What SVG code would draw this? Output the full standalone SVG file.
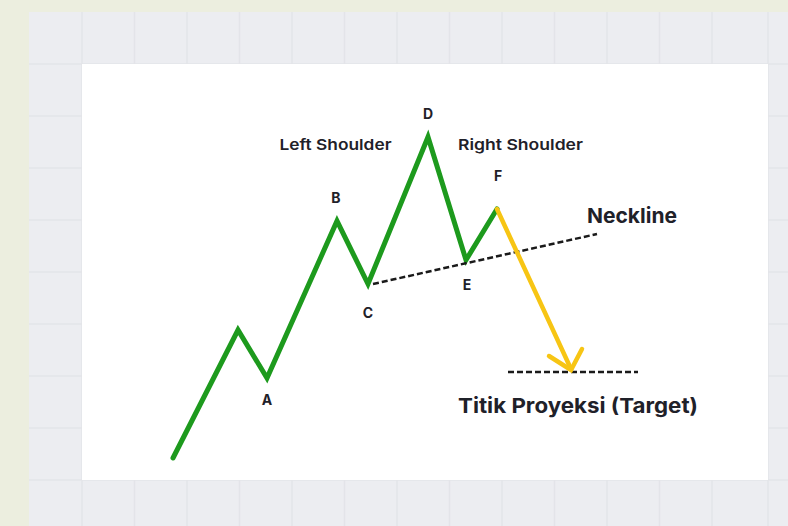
<svg xmlns="http://www.w3.org/2000/svg" width="788" height="526" viewBox="0 0 788 526">
<defs>
<style>
.grid{stroke:#e3e4e9;stroke-width:1.5}
.lbl{font-family:Inter,"Noto Sans","Liberation Sans",sans-serif;font-weight:700;fill:#1f2129;text-anchor:middle}
.pt{font-size:14px}
.sh{font-size:15px;font-weight:600}
.big{font-size:20.5px}
.dash{stroke:#1a1a1a;stroke-width:2.5;stroke-dasharray:6 3;fill:none}
</style>
</defs>
<rect width="788" height="526" fill="#eceedf"/>
<rect x="29" y="12" width="759" height="514" fill="#ecedf1"/>
<g class="grid">
<line x1="82" y1="12" x2="82" y2="526"/><line x1="134.5" y1="12" x2="134.5" y2="526"/><line x1="187" y1="12" x2="187" y2="526"/><line x1="239.5" y1="12" x2="239.5" y2="526"/><line x1="292" y1="12" x2="292" y2="526"/><line x1="344.5" y1="12" x2="344.5" y2="526"/><line x1="397" y1="12" x2="397" y2="526"/><line x1="449.5" y1="12" x2="449.5" y2="526"/><line x1="502" y1="12" x2="502" y2="526"/><line x1="554.5" y1="12" x2="554.5" y2="526"/><line x1="607" y1="12" x2="607" y2="526"/><line x1="659.5" y1="12" x2="659.5" y2="526"/><line x1="712" y1="12" x2="712" y2="526"/><line x1="768" y1="12" x2="768" y2="526"/>
<line x1="29" y1="64" x2="788" y2="64"/><line x1="29" y1="116" x2="788" y2="116"/><line x1="29" y1="168" x2="788" y2="168"/><line x1="29" y1="220" x2="788" y2="220"/><line x1="29" y1="272" x2="788" y2="272"/><line x1="29" y1="324" x2="788" y2="324"/><line x1="29" y1="376" x2="788" y2="376"/><line x1="29" y1="428" x2="788" y2="428"/><line x1="29" y1="480" x2="788" y2="480"/>
</g>
<rect x="82" y="64" width="686" height="416" fill="#ffffff"/>
<g id="connectors">
<polyline points="173,458 238,330 267,378 337,221 368,284 428,137 466,260 497,209" fill="none" stroke="#1d9a1d" stroke-width="5" stroke-linejoin="miter" stroke-linecap="round"/>
<line class="dash" x1="373" y1="284" x2="597" y2="234"/>
<line class="dash" x1="508" y1="372" x2="638" y2="372"/>
<polyline points="497,209 571,369" fill="none" stroke="#f7c514" stroke-width="4.5" stroke-linecap="round"/>
<polyline points="549,356 571,370 582,349" fill="none" stroke="#f7c514" stroke-width="4.5" stroke-linecap="round" stroke-linejoin="miter"/>
</g>
<g id="label-A"><text class="lbl pt" x="267" y="405">A</text></g>
<g id="label-B"><text class="lbl pt" x="336" y="203">B</text></g>
<g id="label-C"><text class="lbl pt" x="368" y="318">C</text></g>
<g id="label-D"><text class="lbl pt" x="428" y="119">D</text></g>
<g id="label-E"><text class="lbl pt" x="467" y="290">E</text></g>
<g id="label-F"><text class="lbl pt" x="498" y="181">F</text></g>
<g id="left-shoulder"><text class="lbl sh" x="335.5" y="149.5" textLength="112" lengthAdjust="spacingAndGlyphs">Left Shoulder</text></g>
<g id="right-shoulder"><text class="lbl sh" x="520.5" y="149.5" textLength="125" lengthAdjust="spacingAndGlyphs">Right Shoulder</text></g>
<g id="neckline"><text class="lbl big" x="632" y="223" textLength="90" lengthAdjust="spacingAndGlyphs">Neckline</text></g>
<g id="target"><text class="lbl big" x="578" y="413" textLength="240" lengthAdjust="spacingAndGlyphs">Titik Proyeksi (Target)</text></g>
</svg>
